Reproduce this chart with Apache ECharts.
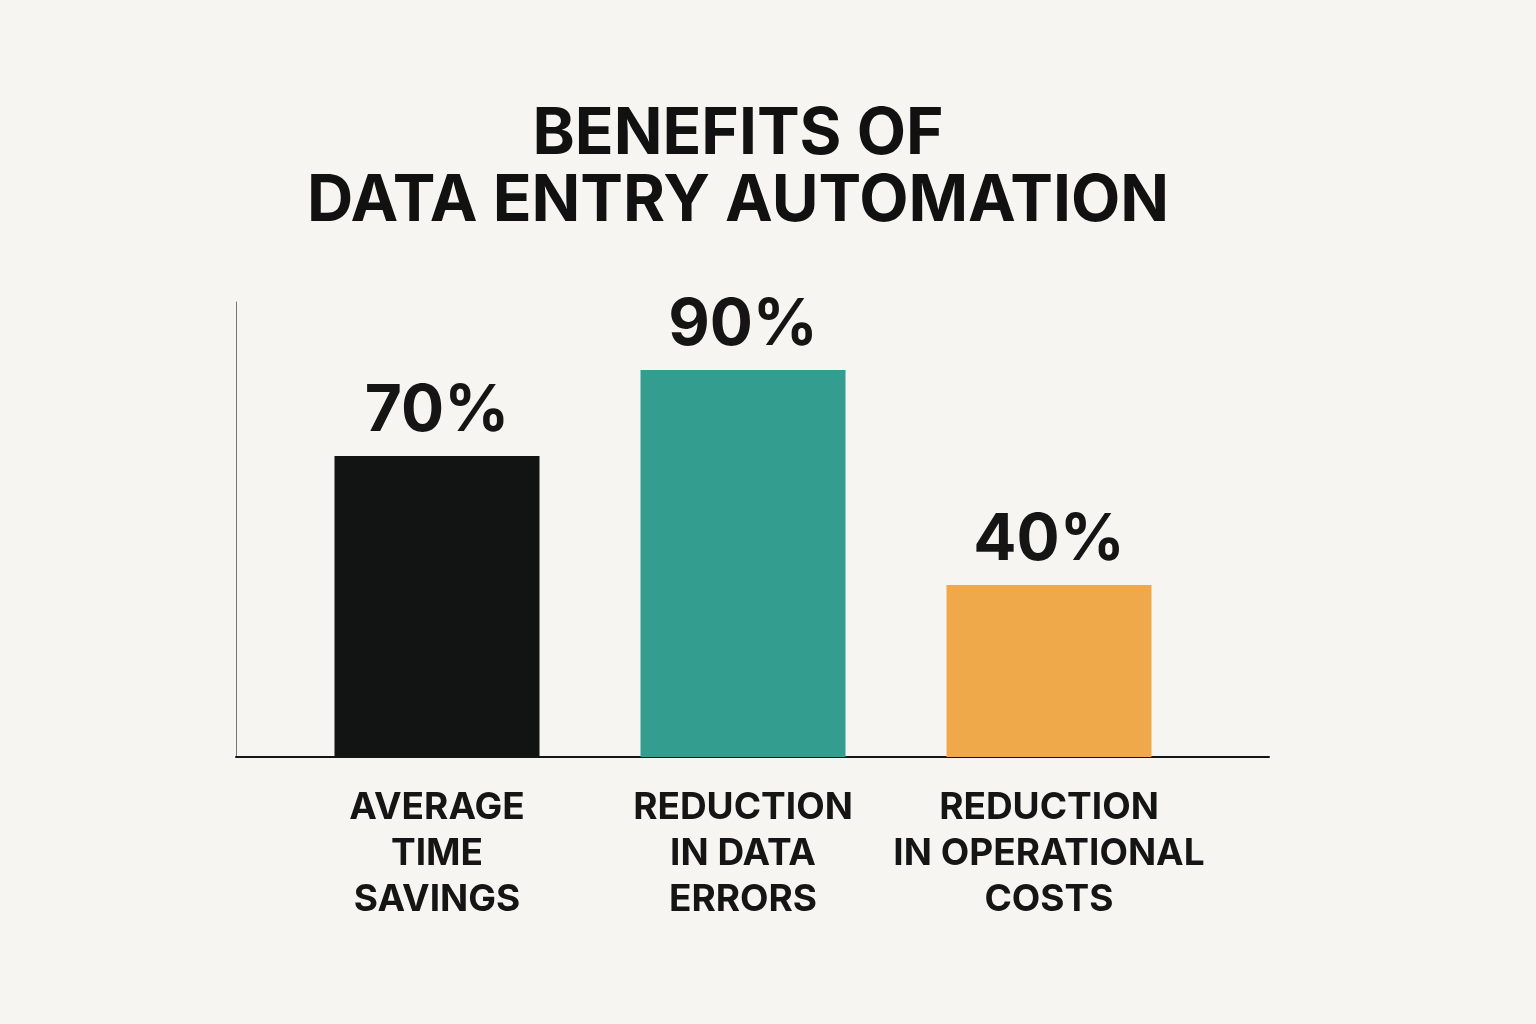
<!DOCTYPE html>
<html>
<head>
<meta charset="utf-8">
<script src="https://cdn.jsdelivr.net/npm/echarts@6/dist/echarts.min.js"></script>
<style>
html,body{margin:0;padding:0;background:#f6f5f2;}
#chart{width:1536px;height:1024px;}
</style>
</head>
<body>
<div id="chart"></div>
<script>
const titleText = "BENEFITS OF\nDATA ENTRY AUTOMATION";
const categories = ["AVERAGE\nTIME\nSAVINGS", "REDUCTION\nIN DATA\nERRORS", "REDUCTION\nIN OPERATIONAL\nCOSTS"];
const values = [70, 90, 40];
const barColors = ["#111412", "#339e8f", "#f0a94a"];

const FONT = "Inter, 'Noto Sans', sans-serif";
const chart = echarts.init(document.getElementById('chart'));
chart.setOption({
  backgroundColor: '#f6f5f2',
  animation: false,
  title: {
    text: titleText,
    left: 733,
    textAlign: 'center',
    top: 96,
    textStyle: {fontFamily: FONT, fontWeight: 'bold', fontSize: 64, lineHeight: 67, color: '#111111'}
  },
  grid: [
    {left: 236, right: 267, top: 302, bottom: 267},
    {left: 284, right: 334, top: 327, bottom: 267}
  ],
  xAxis: [
    {gridIndex: 0, type: 'category', data: categories,
     axisLine: {show: true, lineStyle: {color: '#151515', width: 2}},
     axisTick: {show: false}, axisLabel: {show: false}},
    {gridIndex: 1, type: 'category', data: categories,
     axisLine: {show: false}, axisTick: {show: false},
     axisLabel: {show: true, interval: 0, margin: 28, color: '#151515', fontFamily: FONT,
       fontWeight: 'bold', fontSize: 37, lineHeight: 46}}
  ],
  yAxis: [
    {gridIndex: 0, type: 'value', min: 0, max: 100,
     axisLine: {show: true, lineStyle: {color: '#777777', width: 1}},
     axisTick: {show: false}, axisLabel: {show: false}, splitLine: {show: false}},
    {gridIndex: 1, type: 'value', min: 0, max: 100, show: false, splitLine: {show: false}}
  ],
  series: [{
    type: 'bar',
    xAxisIndex: 1, yAxisIndex: 1,
    barWidth: 205,
    data: values.map((v, i) => ({value: v, itemStyle: {color: barColors[i]}})),
    label: {show: true, position: 'top', distance: 12, formatter: '{c}%',
      fontFamily: FONT, fontWeight: 'bold', fontSize: 64, color: '#151515'}
  }]
});
</script>
</body>
</html>
